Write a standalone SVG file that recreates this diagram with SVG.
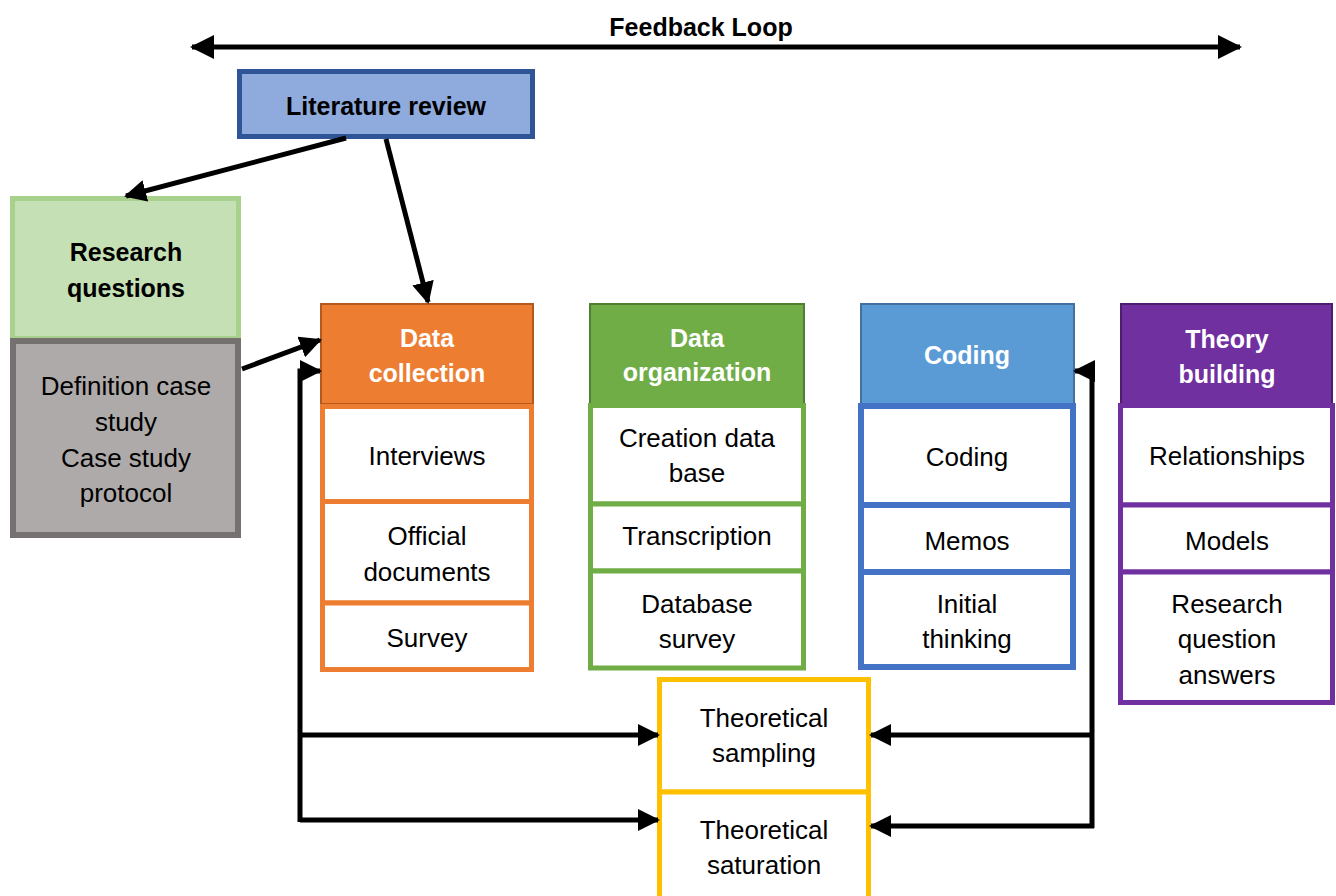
<svg xmlns="http://www.w3.org/2000/svg" width="1336" height="896" viewBox="0 0 1336 896">
  <style>
    .t { font-family: "Liberation Sans", Arial, sans-serif; font-size: 26px; fill: #000; text-anchor: middle; }
    .b { font-weight: bold; font-size: 25px; }
    .w { fill: #fff; }
    .con { fill: none; stroke: #000; stroke-width: 5; stroke-linejoin: miter; }
    .sub { fill: #fff; }
  </style>
  <defs>
    <marker id="ah" markerUnits="userSpaceOnUse" markerWidth="22" markerHeight="22" refX="20" refY="11" orient="auto-start-reverse" viewBox="0 0 22 22">
      <path d="M0,0 L22,11 L0,22 Z" fill="#000"/>
    </marker>
    <marker id="ahBig" markerUnits="userSpaceOnUse" markerWidth="24" markerHeight="24" refX="22" refY="12" orient="auto-start-reverse" viewBox="0 0 24 24">
      <path d="M0,0 L24,12 L0,24 Z" fill="#000"/>
    </marker>
  </defs>

  <rect width="1336" height="896" fill="#fff"/>

  <!-- Feedback loop banner -->
  <g id="feedback-loop">
    <text class="t b" x="701" y="36">Feedback Loop</text>
  </g>

  <!-- Literature review -->
  <g id="literature-review">
    <rect x="239.5" y="71.5" width="293" height="65" fill="#8FAADC" stroke="#2F5597" stroke-width="5"/>
    <text class="t b" x="386" y="115">Literature review</text>
  </g>

  <!-- Research questions / case study definition -->
  <g id="research-questions">
    <rect x="12.5" y="198.5" width="226" height="140" fill="#C5E0B4" stroke="#A9D18E" stroke-width="5"/>
    <text class="t b" x="126" y="261">Research</text>
    <text class="t b" x="126" y="297">questions</text>
  </g>
  <g id="case-study">
    <rect x="13" y="341" width="225" height="194" fill="#AEAAAA" stroke="#767171" stroke-width="6"/>
    <text class="t" x="126" y="395">Definition case</text>
    <text class="t" x="126" y="431">study</text>
    <text class="t" x="126" y="467">Case study</text>
    <text class="t" x="126" y="502">protocol</text>
  </g>

  <!-- Data collection -->
  <g id="data-collection">
    <rect x="321" y="304" width="212" height="100" fill="#ED7D31" stroke="#B55A1F" stroke-width="2"/>
    <text class="t b w" x="427" y="347">Data</text>
    <text class="t b w" x="427" y="382">collection</text>
    <g stroke="#ED7D31" stroke-width="5">
      <rect class="sub" x="322.5" y="406.5" width="209" height="95"/>
      <rect class="sub" x="322.5" y="501.5" width="209" height="101.5"/>
      <rect class="sub" x="322.5" y="603" width="209" height="66.5"/>
    </g>
    <text class="t" x="427" y="465">Interviews</text>
    <text class="t" x="427" y="545">Official</text>
    <text class="t" x="427" y="581">documents</text>
    <text class="t" x="427" y="647">Survey</text>
  </g>

  <!-- Data organization -->
  <g id="data-organization">
    <rect x="590" y="304" width="214" height="100" fill="#70AD47" stroke="#507E32" stroke-width="2"/>
    <text class="t b w" x="697" y="347">Data</text>
    <text class="t b w" x="697" y="381">organization</text>
    <g stroke="#70AD47" stroke-width="5">
      <rect class="sub" x="590.5" y="405.5" width="213" height="98.5"/>
      <rect class="sub" x="590.5" y="504" width="213" height="67"/>
      <rect class="sub" x="590.5" y="571" width="213" height="97"/>
    </g>
    <text class="t" x="697" y="447">Creation data</text>
    <text class="t" x="697" y="482">base</text>
    <text class="t" x="697" y="545">Transcription</text>
    <text class="t" x="697" y="613">Database</text>
    <text class="t" x="697" y="648">survey</text>
  </g>

  <!-- Coding -->
  <g id="coding">
    <rect x="861" y="304" width="213" height="100" fill="#5B9BD5" stroke="#41719C" stroke-width="2"/>
    <text class="t b w" x="967" y="364">Coding</text>
    <g stroke="#4472C4" stroke-width="6">
      <rect class="sub" x="861" y="406" width="212" height="99"/>
      <rect class="sub" x="861" y="505" width="212" height="67"/>
      <rect class="sub" x="861" y="572" width="212" height="95"/>
    </g>
    <text class="t" x="967" y="466">Coding</text>
    <text class="t" x="967" y="550">Memos</text>
    <text class="t" x="967" y="613">Initial</text>
    <text class="t" x="967" y="648">thinking</text>
  </g>

  <!-- Theory building -->
  <g id="theory-building">
    <rect x="1121" y="304" width="211" height="100" fill="#7030A0" stroke="#4B1F6E" stroke-width="2"/>
    <text class="t b w" x="1227" y="348">Theory</text>
    <text class="t b w" x="1227" y="383">building</text>
    <g stroke="#7030A0" stroke-width="5">
      <rect class="sub" x="1120.5" y="405.5" width="212" height="99.5"/>
      <rect class="sub" x="1120.5" y="505" width="212" height="67"/>
      <rect class="sub" x="1120.5" y="572" width="212" height="130.5"/>
    </g>
    <text class="t" x="1227" y="465">Relationships</text>
    <text class="t" x="1227" y="550">Models</text>
    <text class="t" x="1227" y="613">Research</text>
    <text class="t" x="1227" y="648">question</text>
    <text class="t" x="1227" y="684">answers</text>
  </g>

  <!-- Theoretical sampling / saturation -->
  <g id="theoretical-sampling">
    <rect class="sub" x="659.5" y="679.5" width="209" height="112.5" stroke="#FFC000" stroke-width="5"/>
    <text class="t" x="764" y="727">Theoretical</text>
    <text class="t" x="764" y="762">sampling</text>
  </g>
  <g id="theoretical-saturation">
    <rect class="sub" x="659.5" y="792" width="209" height="113" stroke="#FFC000" stroke-width="5"/>
    <text class="t" x="764" y="839">Theoretical</text>
    <text class="t" x="764" y="874">saturation</text>
  </g>

  <!-- Connectors -->
  <g id="connectors">
    <line class="con" x1="192" y1="47" x2="1240" y2="47" marker-start="url(#ahBig)" marker-end="url(#ahBig)"/>
    <line class="con" x1="346" y1="138" x2="126" y2="196" marker-end="url(#ah)"/>
    <line class="con" x1="386" y1="139" x2="428" y2="302" marker-end="url(#ah)"/>
    <line class="con" x1="242" y1="369" x2="320" y2="340" marker-end="url(#ah)"/>
    <!-- left return loop -->
    <polyline class="con" points="300,822 300,371 320,371" marker-end="url(#ah)"/>
    <polyline class="con" points="300,735 658,735" marker-end="url(#ah)"/>
    <polyline class="con" points="300,820 658,820" marker-end="url(#ah)"/>
    <!-- right return loop -->
    <polyline class="con" points="1092,828 1092,371 1075,371" marker-end="url(#ah)"/>
    <polyline class="con" points="1092,735 871,735" marker-end="url(#ah)"/>
    <polyline class="con" points="1094,826 871,826" marker-end="url(#ah)"/>
  </g>
</svg>
